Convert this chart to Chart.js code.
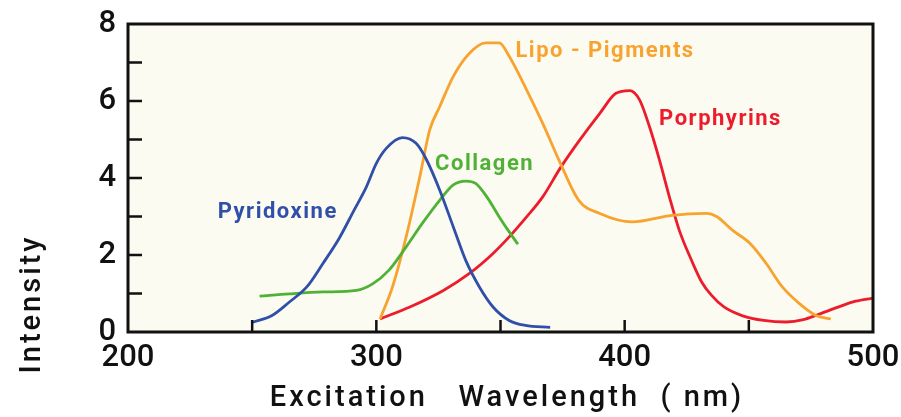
<!DOCTYPE html>
<html>
<head>
<meta charset="utf-8">
<script src="https://cdn.jsdelivr.net/npm/chart.js@4"></script>
<style>
  html, body { margin: 0; padding: 0; background: #fff; }
  #wrap { width: 901px; height: 417px; position: relative; }
</style>
</head>
<body>
<div id="wrap"><canvas id="chart"></canvas></div>
<script>
const pyridoxineX = [250, 258, 265, 272, 278.5, 285, 291, 296, 300, 304, 310.5, 316, 320, 325.5, 331, 336, 341.5, 347, 353.5, 360, 370]
const pyridoxineY = [0.25, 0.43, 0.78, 1.17, 1.78, 2.43, 3.16, 3.77, 4.38, 4.77, 5.05, 4.9, 4.5, 3.69, 2.73, 1.86, 1.17, 0.65, 0.3, 0.17, 0.12]

const collagenX = [253, 265, 278.5, 292, 298.5, 305, 312, 318.5, 325.5, 331, 336, 340, 344.5, 349.5, 353.5, 357]
const collagenY = [0.93, 0.99, 1.04, 1.08, 1.25, 1.6, 2.21, 2.82, 3.42, 3.82, 3.92, 3.86, 3.51, 2.99, 2.6, 2.28]

const lipoX = [301.5, 306.5, 312, 317.5, 321.5, 325.5, 331, 337.5, 344, 349.5, 353.5, 360.5, 367, 374, 381.5, 390, 403, 419, 433, 437, 443.5, 450.5, 457, 463.5, 470.5, 477, 483]
const lipoY = [0.34, 1.17, 2.47, 4.03, 5.25, 5.85, 6.64, 7.24, 7.51, 7.51, 7.16, 6.29, 5.42, 4.4, 3.42, 3.08, 2.86, 3.03, 3.08, 3.0, 2.64, 2.3, 1.78, 1.17, 0.73, 0.43, 0.34]

const porphyrinX = [301.5, 313.5, 327, 337.5, 347, 353.5, 360.5, 367, 374, 381.5, 390, 396.5, 402, 406, 410, 414, 418, 422, 427, 431, 435, 440, 447.5, 456, 465, 472, 477, 486.5, 493, 500]
const porphyrinY = [0.34, 0.65, 1.08, 1.52, 2.04, 2.47, 2.99, 3.51, 4.25, 4.95, 5.68, 6.2, 6.27, 6.03, 5.33, 4.47, 3.51, 2.64, 1.85, 1.3, 0.95, 0.65, 0.42, 0.3, 0.26, 0.32, 0.43, 0.66, 0.8, 0.88]

const seriesNames = ['Pyridoxine', 'Collagen', 'Lipo - Pigments', 'Porphyrins']
const seriesColors = ['#2f4fa9', '#4fb236', '#f8a330', '#ec1c2c']
// where each curve's name is written, in data units
const labelX = [260.3, 343.6, 392.1, 438.6]
const labelY = [3.11, 4.34, 7.28, 5.51]

const xTicks = [200, 300, 400, 500]
const xMinorTicks = [250, 300, 350, 400, 450]
const yTicks = [0, 2, 4, 6, 8]
const yMinorTicks = [1, 2, 3, 4, 5, 6, 7]

const toPoints = (xs, ys) => xs.map((x, i) => ({ x, y: ys[i] }))
const allX = [pyridoxineX, collagenX, lipoX, porphyrinX]
const allY = [pyridoxineY, collagenY, lipoY, porphyrinY]

const frame = {
  id: 'frame',
  beforeDraw(chart) {
    const { ctx, chartArea: a } = chart
    ctx.save()
    ctx.fillStyle = '#fcfbf1'
    ctx.fillRect(a.left, a.top, a.right - a.left, a.bottom - a.top)
    ctx.restore()
  },
  afterDraw(chart) {
    const { ctx, chartArea: a, scales } = chart
    ctx.save()
    ctx.strokeStyle = '#111'
    ctx.lineWidth = 3
    ctx.strokeRect(a.left, a.top, a.right - a.left, a.bottom - a.top)
    ctx.lineWidth = 2.5
    ctx.beginPath()
    yMinorTicks.forEach(v => {
      const y = scales.y.getPixelForValue(v)
      ctx.moveTo(a.left, y)
      ctx.lineTo(a.left + 14, y)
    })
    xMinorTicks.forEach(v => {
      const x = scales.x.getPixelForValue(v)
      ctx.moveTo(x, a.bottom)
      ctx.lineTo(x, a.bottom - 12)
    })
    ctx.stroke()

    ctx.font = 'bold 22px Roboto'
    ctx.letterSpacing = '1.5px'
    ctx.textAlign = 'center'
    ctx.textBaseline = 'middle'
    seriesNames.forEach((name, i) => {
      ctx.fillStyle = seriesColors[i]
      ctx.fillText(name, scales.x.getPixelForValue(labelX[i]), scales.y.getPixelForValue(labelY[i]))
    })

    ctx.fillStyle = '#111'
    ctx.font = '500 29px Roboto'
    ctx.letterSpacing = '3px'
    ctx.fillText('Excitation   Wavelength  ( nm)', 507, 399)
    ctx.translate(33, 304)
    ctx.rotate(-Math.PI / 2)
    ctx.fillText('Intensity', 0, 0)
    ctx.restore()
  }
}

new Chart(document.getElementById('chart'), {
  type: 'line',
  data: {
    datasets: seriesNames.map((name, i) => ({
      label: name,
      data: toPoints(allX[i], allY[i]),
      borderColor: seriesColors[i],
      borderWidth: 2.8,
      pointRadius: 0,
      tension: 0.4,
      cubicInterpolationMode: 'monotone',
      fill: false,
    }))
  },
  options: {
    responsive: true,
    maintainAspectRatio: false,
    animation: false,
    layout: { padding: { top: 24, right: 28, left: 0, bottom: 0 } },
    plugins: {
      legend: { display: false },
      tooltip: { enabled: false }
    },
    scales: {
      x: {
        type: 'linear',
        min: 200,
        max: 500,
        afterBuildTicks: s => { s.ticks = xTicks.map(v => ({ value: v })) },
        afterFit: s => { s.height = 85; s.paddingLeft = 0; s.paddingRight = 0 },
        grid: { display: false, drawTicks: false },
        border: { display: false },
        ticks: { font: { size: 31, family: 'Roboto', weight: '500' }, color: '#111', padding: 8, maxRotation: 0 }
      },
      y: {
        min: 0,
        max: 8,
        afterBuildTicks: s => { s.ticks = yTicks.map(v => ({ value: v })) },
        afterFit: s => { s.width = 128; s.paddingTop = 0; s.paddingBottom = 0 },
        grid: { display: false, drawTicks: false },
        border: { display: false },
        ticks: { font: { size: 31, family: 'Roboto', weight: '500' }, color: '#111', padding: 12 }
      }
    }
  },
  plugins: [frame]
})
</script>
</body>
</html>
